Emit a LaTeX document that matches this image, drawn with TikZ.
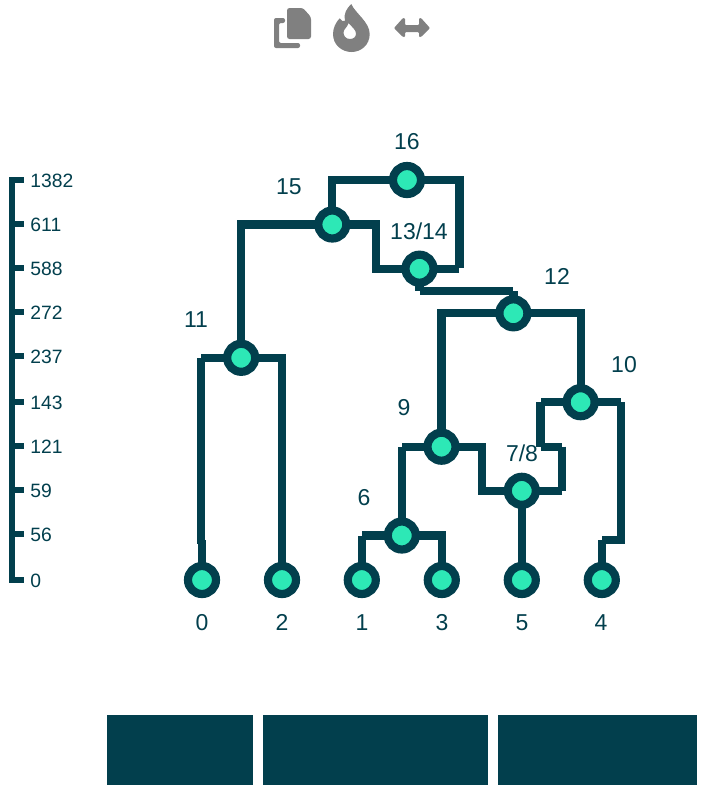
\documentclass[tikz,border=0pt]{standalone}
\usepackage{fontspec}
\setmainfont{Liberation Sans}
\usetikzlibrary{backgrounds}
\definecolor{deep}{HTML}{023F4D}
\definecolor{mint}{HTML}{2DE8B6}
\definecolor{icon}{HTML}{808080}
\tikzset{
  tree/.style={circle,draw=deep,fill=mint,line width=8.2pt,minimum size=28pt,inner sep=0pt},
  edge/.style={draw=deep,line width=8.2pt,line join=miter},
  lab/.style={text=deep,font=\fontsize{23}{25}\selectfont,inner sep=0pt,anchor=center},
  axlab/.style={text=deep,font=\fontsize{19.3}{21}\selectfont,inner sep=0pt,anchor=west},
  axis/.style={draw=deep,line width=6pt},
  band/.style={fill=deep,draw=none},
  ic/.style={fill=icon,draw=none}
}
\begin{document}
\begin{tikzpicture}[x=1pt,y=-1pt]
\useasboundingbox (0,0) rectangle (710,796);
% icons
\fill[ic,rounded corners=2pt] (285,18) -- (285,23) -- (279,23) -- (279,43) -- (300,43) -- (300,48) -- (274,48) -- (274,18) -- cycle;
\fill[ic,rounded corners=2.5pt] (287,8) -- (303,8) -- (311,17) -- (311,39) -- (287,39) -- cycle;
\fill[ic,even odd rule] (351.3,4) .. controls (355,13) and (369.7,22) .. (369.7,34) .. controls (369.7,45) and (361,52) .. (351.5,52) .. controls (342,52) and (333,45) .. (333,34) .. controls (333,28) and (336,22) .. (339.7,18.3) .. controls (341,20.5) and (343,22) .. (345,21) .. controls (343,14) and (347,8) .. (351.3,4) -- cycle
 (348.5,23) .. controls (352,27) and (356,30) .. (356,33.5) .. controls (356,37) and (353.5,39) .. (350,39) .. controls (346,39) and (343.5,36) .. (343.5,32.5) .. controls (343.5,29) and (347.5,27.5) .. (348.5,23) -- cycle;
\fill[ic,rounded corners=1pt] (394,28) -- (403,18) -- (405,18) -- (405,25) -- (419,25) -- (419,18) -- (421,18) -- (430,28) -- (421,37) -- (419,37) -- (419,32) -- (405,32) -- (405,37) -- (403,37) -- cycle;
% axis
\coordinate (axT) at (12,177);
\coordinate (axB) at (12,583);
\draw[axis] (axT) -- (axB);
\foreach \yy/\tt in {180/1382,224/611,268/588,312/272,356/237,402/143,446/121,490/59,534/56,580/0}{
  \coordinate (tk\tt) at (12,\yy);
  \coordinate (te\tt) at (24,\yy);
  \draw[axis] (tk\tt) -- (te\tt);
  \node[axlab] (al\tt) at (30.3,\yy+0.7) {\tt};
}
% tree nodes
\node[tree] (l0) at (202,580) {};
\node[tree] (l2) at (282,580) {};
\node[tree] (l1) at (361.8,580) {};
\node[tree] (l3) at (441.8,580) {};
\node[tree] (l5) at (521.8,580) {};
\node[tree] (l4) at (601.8,580) {};
\node[tree] (n6) at (401.8,535.5) {};
\node[tree] (n9) at (441.5,446.7) {};
\node[tree] (n78) at (521.8,490.8) {};
\node[tree] (n10) at (580.6,402.2) {};
\node[tree] (n12) at (513.4,313.3) {};
\node[tree] (n1314) at (419.5,268.7) {};
\node[tree] (n15) at (332.3,224.5) {};
\node[tree] (n16) at (407,180) {};
\node[tree] (n11) at (241.2,357.8) {};
% corner points of the connectors
\coordinate (c16L) at (332.3,180);
\coordinate (c16R) at (459.5,180);
\coordinate (c16D) at (459.5,268.3);
\coordinate (c14R) at (459,268.7);
\coordinate (c15L) at (241.2,224.5);
\coordinate (c15R) at (376,224.5);
\coordinate (c15D) at (376,268.7);
\coordinate (c14D) at (419.5,291);
\coordinate (c12T) at (513.4,291);
\coordinate (c12L) at (441.5,313.3);
\coordinate (c12R) at (580.6,313.3);
\coordinate (c11L) at (201,357.8);
\coordinate (c11D) at (201,544);
\coordinate (c0T) at (202,540);
\coordinate (c11R) at (282,357.8);
\coordinate (c9L) at (401.8,446.7);
\coordinate (c9R) at (482,446.7);
\coordinate (c9D) at (482,490.8);
\coordinate (c10L) at (540.5,402.2);
\coordinate (c10B) at (540.5,446.7);
\coordinate (c10C) at (562,446.7);
\coordinate (c10E) at (562,490.8);
\coordinate (c10R) at (621,402.2);
\coordinate (c10D) at (621,540);
\coordinate (c4T) at (601.8,540);
\coordinate (c6L) at (361.8,535.5);
\coordinate (c6R) at (441.8,535.5);
% connectors
\begin{pgfonlayer}{background}
\draw[edge] (n16.center) -- (c16L) -- (n15.center);
\draw[edge] (n16.center) -- (c16R) -- (c16D);
\draw[edge] (c14R) -- (n1314.center);
\draw[edge] (n15.center) -- (c15L) -- (n11.center);
\draw[edge] (n15.center) -- (c15R) -- (c15D) -- (n1314.center);
\draw[edge] (n1314.center) -- (c14D);
\draw[edge] (c14D) -- (c12T);
\draw[edge] (c12T) -- (n12.center);
\draw[edge] (n12.center) -- (c12L) -- (n9.center);
\draw[edge] (n12.center) -- (c12R) -- (n10.center);
\draw[edge] (n11.center) -- (c11L);
\draw[edge] (c11L) -- (c11D);
\draw[edge] (c0T) -- (l0.center);
\draw[edge] (n11.center) -- (c11R) -- (l2.center);
\draw[edge] (n9.center) -- (c9L);
\draw[edge] (c9L) -- (n6.center);
\draw[edge] (n9.center) -- (c9R) -- (c9D) -- (n78.center);
\draw[edge] (n10.center) -- (c10L);
\draw[edge] (c10L) -- (c10B);
\draw[edge] (c10B) -- (c10C);
\draw[edge] (c10C) -- (c10E);
\draw[edge] (c10E) -- (n78.center);
\draw[edge] (n10.center) -- (c10R);
\draw[edge] (c10R) -- (c10D) -- (c4T);
\draw[edge] (c4T) -- (l4.center);
\draw[edge] (n78.center) -- (l5.center);
\draw[edge] (n6.center) -- (c6L);
\draw[edge] (c6L) -- (l1.center);
\draw[edge] (n6.center) -- (c6R) -- (l3.center);
\end{pgfonlayer}
% labels
\node[lab] (t16) at (407,142) {16};
\node[lab] (t15) at (289,187) {15};
\node[lab] (t1314) at (419,231) {13/14};
\node[lab] (t12) at (557,276) {12};
\node[lab] (t11) at (196,320) {11};
\node[lab] (t10) at (624,365) {10};
\node[lab] (t9) at (404,408) {9};
\node[lab] (t78) at (522,453) {7/8};
\node[lab] (t6) at (364,498) {6};
\node[lab,anchor=base] (b0) at (202,630) {0};
\node[lab,anchor=base] (b2) at (282,630) {2};
\node[lab,anchor=base] (b1) at (362,630) {1};
\node[lab,anchor=base] (b3) at (442,630) {3};
\node[lab,anchor=base] (b5) at (522,630) {5};
\node[lab,anchor=base] (b4) at (601,630) {4};
% bands
\fill[band] (107,715) rectangle (253,785);
\fill[band] (263,715) rectangle (488,785);
\fill[band] (498,715) rectangle (697,785);
\end{tikzpicture}
\end{document}
